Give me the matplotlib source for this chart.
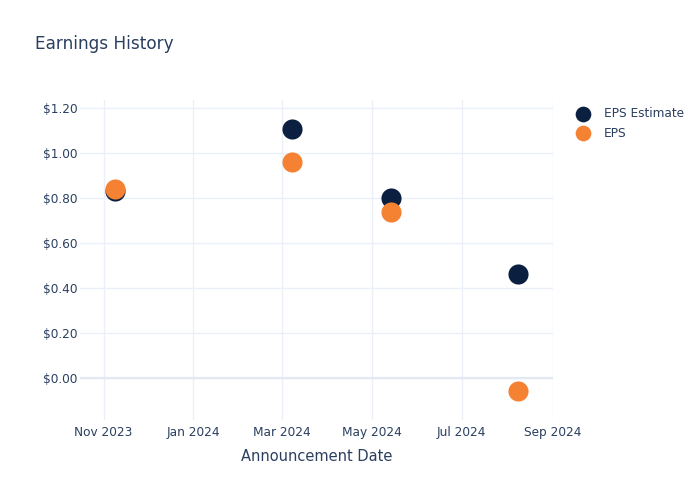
import numpy as np
import matplotlib
matplotlib.use('Agg')
import matplotlib.pyplot as plt
import matplotlib.dates as mdates
from matplotlib.ticker import FuncFormatter

# Values
dates = np.array(['2023-11-09', '2024-03-08', '2024-05-14', '2024-08-08'], dtype='datetime64[D]')
eps_estimate = [0.83, 1.11, 0.80, 0.46]
eps_actual   = [0.84, 0.96, 0.74, -0.06]

TEXT = '#2a3f5f'
GRID = '#EBF0F8'
NAVY = '#0B1F41'
ORANGE = '#F58232'

plt.rcParams['font.family'] = ['DejaVu Sans']

W, H = 700, 500
fig = plt.figure(figsize=(7, 5), dpi=100)
# plot area: x 80..553, y 100..420 (pixels)
ax = fig.add_axes([80/W, 1 - 420/H, (553-80)/W, (420-100)/H])

ax.scatter(dates, eps_estimate, s=210, color=NAVY, label='EPS Estimate', zorder=3, linewidths=0)
ax.scatter(dates, eps_actual, s=210, color=ORANGE, label='EPS', zorder=4, linewidths=0)

ax.set_xlim(np.datetime64('2023-10-16'), np.datetime64('2024-09-01'))
ax.set_ylim(-0.188, 1.237)
ax.set_yticks(np.arange(0, 1.21, 0.2))
ax.yaxis.set_major_formatter(FuncFormatter(lambda v, _: f"${v:.2f}"))
ax.xaxis.set_major_locator(mdates.MonthLocator(bymonth=[1, 3, 5, 7, 9, 11]))
ax.xaxis.set_major_formatter(mdates.DateFormatter('%b %Y'))

ax.grid(True, color=GRID, lw=1)
ax.axhline(0, color='#E3E8F2', lw=1.6, zorder=1)
ax.set_axisbelow(True)
for s in ax.spines.values():
    s.set_visible(False)
ax.tick_params(length=0, colors=TEXT, labelsize=8.7)
ax.tick_params(axis='y', pad=2)
ax.tick_params(axis='x', pad=4)

ax.set_xlabel('Announcement Date', color=TEXT, fontsize=10.5, labelpad=7.5)

fig.text(35/W, 1 - 44/H, 'Earnings History', color=TEXT, fontsize=12.2, va='center')

fig.legend(loc='upper left', bbox_to_anchor=(576/W, 1 - 107/H), frameon=False,
           fontsize=8.7, labelcolor=TEXT, handlelength=1.2, handletextpad=1.1,
           borderaxespad=0, borderpad=0, labelspacing=0.55, markerscale=0.78)

fig.savefig('out.png', dpi=100)
